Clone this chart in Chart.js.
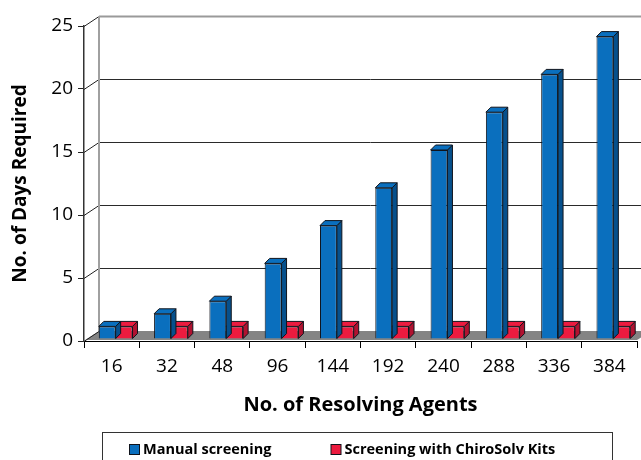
<!DOCTYPE html>
<html><head><meta charset="utf-8">
<script src="https://cdn.jsdelivr.net/npm/chart.js@4/dist/chart.umd.min.js"></script>
<style>html,body{margin:0;padding:0;overflow:hidden;background:#fff}#wrap{width:641px;height:475px}</style>
</head><body><div id="wrap"><canvas id="c" width="641" height="475"></canvas></div>
<script>
const categories = ['16','32','48','96','144','192','240','288','336','384'];
const manualDays = [1,2,3,6,9,12,15,18,21,24];
const kitDays = [1,1,1,1,1,1,1,1,1,1];
const seriesNames = ['Manual screening','Screening with ChiroSolv Kits'];
const yMin = 0, yMax = 25, yStep = 5;
const xTitle = 'No. of Resolving Agents';
const yTitle = 'No. of Days Required';

const FONT = "'Open Sans', 'Noto Sans', sans-serif";
const frontColors = ['#0a6fbe', '#ec1b3f'];
const sideColors = ['#06508c', '#b01230'];
const edge = '#10141c';

// 3D decoration
const WALL_DX = 15, WALL_DY = -10;  // back wall offset
const BAR_DX = 4, BAR_DY = -2;      // bars sit mid-depth
const BAR_D = 5;                    // bar depth

function poly(ctx, pts, fill, stroke) {
  ctx.beginPath();
  ctx.moveTo(pts[0][0], pts[0][1]);
  for (let i = 1; i < pts.length; i++) ctx.lineTo(pts[i][0], pts[i][1]);
  ctx.closePath();
  if (fill) { ctx.fillStyle = fill; ctx.fill(); }
  if (stroke) { ctx.strokeStyle = stroke; ctx.lineWidth = 1; ctx.stroke(); }
}

const threeD = {
  id: 'threeD',
  beforeDatasetsDraw(chart) {
    const ctx = chart.ctx, a = chart.chartArea, ys = chart.scales.y;
    const L = a.left, R = a.right, B = a.bottom;
    ctx.save();
    // floor
    poly(ctx, [[L + 1, B - 1], [R, B - 1], [R + WALL_DX, B + WALL_DY], [L + WALL_DX, B + WALL_DY]], '#848484', null);
    // grid on back wall + connectors
    ys.ticks.forEach(t => {
      const y = Math.round(ys.getPixelForValue(t.value)) + 0.5;
      ctx.lineWidth = 1;
      ctx.strokeStyle = '#222';
      ctx.beginPath(); ctx.moveTo(L, y); ctx.lineTo(L + WALL_DX, y + WALL_DY); ctx.stroke();
      if (t.value > yMin) {
        ctx.strokeStyle = t.value === yMax ? '#9a9a9a' : '#2a2a2a';
        ctx.lineWidth = t.value === yMax ? 2 : 1;
        ctx.beginPath(); ctx.moveTo(L + WALL_DX, y + WALL_DY); ctx.lineTo(R + WALL_DX + 10, y + WALL_DY); ctx.stroke();
      }
    });
    // back wall left edge
    const yt = Math.round(ys.getPixelForValue(yMax)) + WALL_DY;
    ctx.strokeStyle = '#a0a0a0'; ctx.lineWidth = 2;
    ctx.beginPath(); ctx.moveTo(L + WALL_DX, yt); ctx.lineTo(L + WALL_DX, B + WALL_DY); ctx.stroke();
    ctx.restore();
    ctx.save();
    ctx.translate(BAR_DX, BAR_DY);
  },
  afterDatasetDraw(chart, args) {
    const ctx = chart.ctx, i = args.index;
    args.meta.data.forEach(el => {
      const p = el.getProps(['x', 'y', 'base', 'width'], true);
      const l = p.x - p.width / 2, r = p.x + p.width / 2, t = p.y, b = p.base;
      poly(ctx, [[r, t], [r + BAR_D, t - BAR_D], [r + BAR_D, b - BAR_D], [r, b]], sideColors[i], edge);
      poly(ctx, [[l, t], [l + BAR_D, t - BAR_D], [r + BAR_D, t - BAR_D], [r, t]], frontColors[i], edge);
    });
  },
  afterDatasetsDraw(chart) {
    chart.ctx.restore();
  },
  afterDraw(chart) {
    // legend
    const ctx = chart.ctx, a = chart.chartArea;
    const boxL = a.left + 18, boxR = a.right - 25, boxT = 432;
    ctx.save();
    ctx.strokeStyle = '#333'; ctx.lineWidth = 1;
    ctx.strokeRect(boxL + 0.5, boxT + 0.5, boxR - boxL, 60);
    ctx.font = 'bold 14.5px ' + FONT;
    ctx.textBaseline = 'middle';
    let x = boxL + 27;
    const cy = 449;
    chart.data.datasets.forEach((ds, i) => {
      ctx.fillStyle = frontColors[i];
      ctx.fillRect(x + 0.5, cy - 5 + 0.5, 10, 10);
      ctx.strokeStyle = edge; ctx.strokeRect(x + 0.5, cy - 5 + 0.5, 10, 10);
      ctx.fillStyle = '#000';
      ctx.fillText(ds.label, x + 14, cy + 1);
      x += 14 + ctx.measureText(ds.label).width + 59;
    });
    ctx.restore();
  }
};

new Chart(document.getElementById('c'), {
  type: 'bar',
  plugins: [threeD],
  data: {
    labels: categories,
    datasets: [
      { label: seriesNames[0], data: manualDays, backgroundColor: frontColors[0], borderColor: edge, borderWidth: 1, clip: false },
      { label: seriesNames[1], data: kitDays, backgroundColor: frontColors[1], borderColor: edge, borderWidth: 1, clip: false }
    ]
  },
  options: {
    responsive: false,
    animation: false,
    devicePixelRatio: 1,
    datasets: { bar: { categoryPercentage: 0.61, barPercentage: 1.0 } },
    layout: { padding: { left: 0, top: 26, right: 4, bottom: 50 } },
    plugins: { legend: { display: false }, tooltip: { enabled: false } },
    scales: {
      x: {
        grid: { display: true, drawOnChartArea: false, drawTicks: true, tickLength: 7, color: '#000', offset: true },
        border: { display: true, color: '#000', width: 1 },
        ticks: { font: { size: 19, family: FONT }, color: '#000', padding: 7, maxRotation: 0 },
        title: { display: true, text: xTitle, font: { size: 20, weight: 'bold', family: FONT }, color: '#000', padding: { top: 0, bottom: 8 } },
        afterFit(s) { s.height = 84; }
      },
      y: {
        min: yMin, max: yMax,
        ticks: { stepSize: yStep, font: { size: 19, family: FONT }, color: '#000', padding: 5 },
        grid: { display: true, drawOnChartArea: false, drawTicks: true, tickLength: 6, color: '#222' },
        border: { display: true, color: '#333', width: 1.5 },
        title: { display: true, text: yTitle, font: { size: 19, weight: 'bold', family: FONT }, color: '#000', padding: { top: 9, bottom: 0 } },
        afterFit(s) { s.width = 84; }
      }
    }
  }
});
</script></body></html>
